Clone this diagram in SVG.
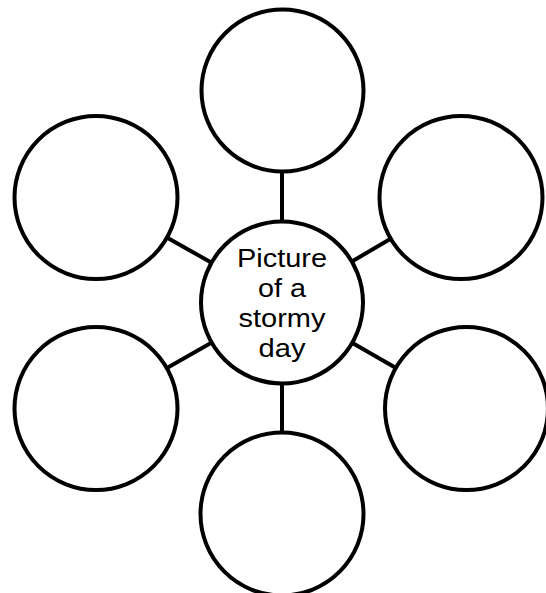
<svg xmlns="http://www.w3.org/2000/svg" width="546" height="593" viewBox="0 0 546 593">
<style>
.c{fill:#fff;stroke:#000;stroke-width:4}
.l{stroke:#000;stroke-width:4;fill:none}
.t{font-family:"Liberation Sans",Arial,sans-serif;font-size:26px;fill:#000;text-anchor:middle}
</style>
<rect width="546" height="593" fill="#fff"/>
<g id="connectors">
<line class="l" x1="282" y1="302.5" x2="282" y2="90.5"/>
<line class="l" x1="282" y1="302.5" x2="282" y2="514"/>
<line class="l" x1="282" y1="302.5" x2="96" y2="197.5"/>
<line class="l" x1="282" y1="302.5" x2="461" y2="197.5"/>
<line class="l" x1="282" y1="302.5" x2="96" y2="408.5"/>
<line class="l" x1="282" y1="302.5" x2="466.5" y2="408.5"/>
</g>
<g id="top"><circle class="c" cx="282.5" cy="90.5" r="81"/></g>
<g id="upper-left"><circle class="c" cx="96" cy="197.5" r="81.5"/></g>
<g id="upper-right"><circle class="c" cx="461" cy="197.5" r="81.5"/></g>
<g id="lower-left"><circle class="c" cx="96" cy="408.5" r="81.5"/></g>
<g id="lower-right"><circle class="c" cx="466.5" cy="408.5" r="81.5"/></g>
<g id="bottom"><circle class="c" cx="282" cy="514" r="81.5"/></g>
<g id="center">
<circle class="c" cx="282" cy="302.5" r="81"/>
<text class="t" x="282" y="266.5" textLength="90" lengthAdjust="spacingAndGlyphs">Picture</text>
<text class="t" x="282" y="296.5" textLength="48" lengthAdjust="spacingAndGlyphs">of a</text>
<text class="t" x="282" y="326.5" textLength="87" lengthAdjust="spacingAndGlyphs">stormy</text>
<text class="t" x="282" y="356.5" textLength="47" lengthAdjust="spacingAndGlyphs">day</text>
</g>
</svg>
